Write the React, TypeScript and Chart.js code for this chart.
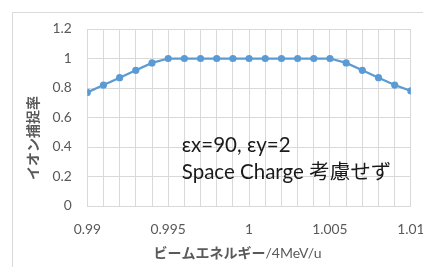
import React, { useEffect, useRef } from "react";
import { Chart, registerables } from "chart.js";

Chart.register(...registerables);

const energies = [
  0.99, 0.991, 0.992, 0.993, 0.994, 0.995, 0.996, 0.997, 0.998, 0.999, 1.0,
  1.001, 1.002, 1.003, 1.004, 1.005, 1.006, 1.007, 1.008, 1.009, 1.01,
];
const captureRates = [
  0.77, 0.82, 0.87, 0.92, 0.97, 1, 1, 1, 1, 1, 1, 1, 1, 1, 1, 1, 0.97, 0.92,
  0.87, 0.82, 0.78,
];
const xTickLabels = ["0.99", "0.995", "1", "1.005", "1.01"];
const yTickLabels = ["0", "0.2", "0.4", "0.6", "0.8", "1", "1.2"];
const yTitle = "イオン捕捉率";
const xTitleJa = "ビームエネルギー";
const xTitleUnit = "/4MeV/u";
const noteLines = ["εx=90, εy=2", "Space Charge 考慮せず"];

const GRID = "#d9d9d9";
const TEXT = "#595959";
const BLUE = "#5B9BD5";

const textPlugin = {
  id: "texts",
  afterDraw(chart: any) {
    const ctx = chart.ctx;
    const ca = chart.chartArea;
    ctx.save();
    // Y title
    ctx.fillStyle = TEXT;
    ctx.font = "bold 14px 'Noto Sans CJK JP'";
    ctx.textAlign = "center";
    ctx.textBaseline = "middle";
    ctx.translate(ca.left - 55, ca.top + 109);
    ctx.rotate(-Math.PI / 2);
    ctx.fillText(yTitle, 0, 0);
    ctx.restore();

    // X title
    ctx.save();
    ctx.textBaseline = "middle";
    ctx.textAlign = "left";
    ctx.fillStyle = TEXT;
    const fJa = "bold 14px 'Noto Sans CJK JP'";
    const fEn = "14px Lato";
    ctx.font = fJa;
    const w1 = ctx.measureText(xTitleJa).width;
    ctx.font = fEn;
    const w2 = ctx.measureText(xTitleUnit).width;
    const cx = 237.5;
    const cy = ca.bottom + 47;
    const x0 = cx - (w1 + w2) / 2;
    ctx.font = fJa;
    ctx.fillText(xTitleJa, x0, cy);
    ctx.font = fEn;
    ctx.fillText(xTitleUnit, x0 + w1, cy);
    ctx.restore();

    // Note
    ctx.save();
    ctx.fillStyle = "#1a1a1a";
    ctx.font = "20.5px Lato, 'Noto Sans CJK JP'";
    ctx.textAlign = "left";
    ctx.textBaseline = "alphabetic";
    ctx.fillText(noteLines[0], ca.left + 94.5, ca.top + 122.7);
    ctx.fillText(noteLines[1], ca.left + 94.5, ca.top + 150.3);
    ctx.restore();
  },
};

export default function App() {
  const ref = useRef<HTMLCanvasElement | null>(null);

  useEffect(() => {
    if (!ref.current) return;
    const points = energies.map((x, i) => ({ x, y: captureRates[i] }));
    const chart = new Chart(ref.current, {
      type: "line",
      data: {
        datasets: [
          {
            data: points,
            borderColor: BLUE,
            backgroundColor: BLUE,
            borderWidth: 2.25,
            pointRadius: 3.6,
            pointBorderWidth: 0,
            pointBackgroundColor: BLUE,
            tension: 0,
          },
        ],
      },
      options: {
        animation: false,
        responsive: false,
        devicePixelRatio: 1,
        layout: { padding: { left: 0, right: 28.3, top: 29, bottom: 0 } },
        plugins: { legend: { display: false }, tooltip: { enabled: false } },
        scales: {
          x: {
            type: "linear",
            min: 0.99,
            max: 1.01,
            afterFit: (s: any) => {
              s.height = 61;
            },
            grid: { color: GRID, drawTicks: false, lineWidth: 1 },
            border: { color: GRID },
            ticks: {
              stepSize: 0.001,
              autoSkip: false,
              maxRotation: 0,
              padding: 15.5,
              color: TEXT,
              font: { family: "Lato", size: 13.8 },
              callback: (v: any) => {
                const k = Math.round(Number(v) * 1000) - 990;
                return k % 5 === 0 ? xTickLabels[k / 5] : "";
              },
            },
          },
          y: {
            min: 0,
            max: 1.2,
            afterFit: (s: any) => {
              s.width = 87.3;
            },
            grid: { color: GRID, drawTicks: false, lineWidth: 1 },
            border: { color: GRID },
            ticks: {
              stepSize: 0.2,
              padding: 15.6,
              color: TEXT,
              font: { family: "Lato", size: 13.8 },
              callback: (v: any) => yTickLabels[Math.round(Number(v) * 5)],
            },
          },
        },
      },
      plugins: [textPlugin],
    } as any);
    return () => chart.destroy();
  }, []);

  return (
    <div
      style={{
        position: "fixed",
        left: 0,
        top: 0,
        width: 423,
        height: 267,
        overflow: "hidden",
        background: "#fff",
      }}
    >
      <div
        style={{
          position: "absolute",
          left: 11.5,
          top: 11.5,
          width: 600,
          height: 600,
          border: "1px solid #d9d9d9",
          boxSizing: "border-box",
        }}
      />
      <canvas
        ref={ref}
        width={440}
        height={267}
        style={{ position: "absolute", left: 0, top: 0, width: 440, height: 267 }}
      />
    </div>
  );
}
